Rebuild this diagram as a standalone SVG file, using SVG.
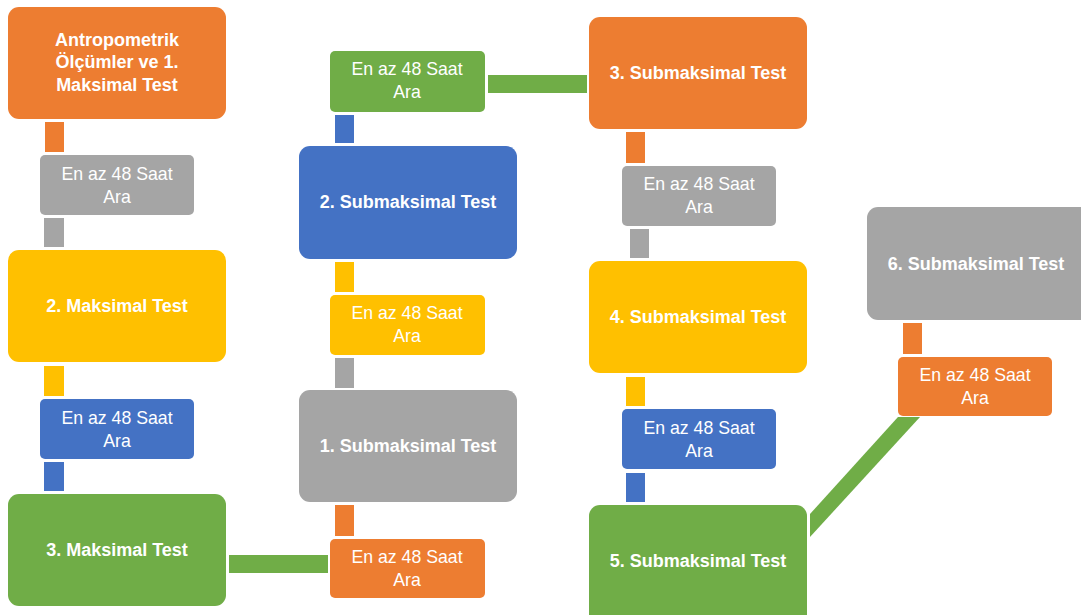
<svg xmlns="http://www.w3.org/2000/svg" width="1081" height="615" viewBox="0 0 1081 615">
<style>
.o{fill:#ED7D31}.g{fill:#A5A5A5}.y{fill:#FFC000}.b{fill:#4472C4}.gr{fill:#70AD47}
.big{font-family:"Liberation Sans",Arial,sans-serif;font-weight:bold;font-size:18px;fill:#fff;text-anchor:middle}
.sm{font-family:"Liberation Sans",Arial,sans-serif;font-size:17.7px;fill:#fff;text-anchor:middle}
</style>
<rect width="1081" height="615" fill="#fff"/>
<g id="connectors">
<rect class="o" x="45" y="122" width="19" height="30"/>
<rect class="g" x="44" y="218" width="20" height="29"/>
<rect class="y" x="44" y="366" width="20" height="30"/>
<rect class="b" x="44" y="462" width="20" height="29"/>
<rect class="gr" x="229" y="555" width="99" height="18"/>
<rect class="gr" x="488" y="75" width="99" height="18"/>
<rect class="b" x="335" y="115" width="19" height="28"/>
<rect class="y" x="335" y="262" width="19" height="30"/>
<rect class="g" x="335" y="358" width="19" height="30"/>
<rect class="o" x="335" y="505" width="19" height="31"/>
<rect class="o" x="626" y="132" width="19" height="31"/>
<rect class="g" x="630" y="229" width="19" height="29"/>
<rect class="y" x="626" y="377" width="19" height="29"/>
<rect class="b" x="626" y="473" width="19" height="29"/>
<rect class="o" x="903" y="323" width="19" height="31"/>
<polygon class="gr" points="810,514 898,417 920,417 810,537"/>
</g>
<g id="n1"><rect class="o" x="8" y="7" width="218" height="112" rx="11"/><text class="big" x="117" y="46">Antropometrik</text><text class="big" x="117" y="68">Ölçümler ve 1.</text><text class="big" x="117" y="91">Maksimal Test</text></g>
<g id="s1"><rect class="g" x="40" y="155" width="154" height="60" rx="5"/><text class="sm" x="117" y="180">En az 48 Saat</text><text class="sm" x="117" y="203">Ara</text></g>
<g id="n2"><rect class="y" x="8" y="250" width="218" height="112" rx="11"/><text class="big" x="117" y="312">2. Maksimal Test</text></g>
<g id="s2"><rect class="b" x="40" y="399" width="154" height="60" rx="5"/><text class="sm" x="117" y="424">En az 48 Saat</text><text class="sm" x="117" y="447">Ara</text></g>
<g id="n3"><rect class="gr" x="8" y="494" width="218" height="112" rx="11"/><text class="big" x="117" y="556">3. Maksimal Test</text></g>
<g id="s3"><rect class="o" x="330" y="539" width="155" height="59" rx="5"/><text class="sm" x="407" y="563">En az 48 Saat</text><text class="sm" x="407" y="586">Ara</text></g>
<g id="n4"><rect class="g" x="299" y="390" width="218" height="112" rx="11"/><text class="big" x="408" y="452">1. Submaksimal Test</text></g>
<g id="s4"><rect class="y" x="330" y="295" width="155" height="60" rx="5"/><text class="sm" x="407" y="319">En az 48 Saat</text><text class="sm" x="407" y="342">Ara</text></g>
<g id="n5"><rect class="b" x="299" y="146" width="218" height="113" rx="11"/><text class="big" x="408" y="208">2. Submaksimal Test</text></g>
<g id="s5"><rect class="gr" x="330" y="51" width="155" height="61" rx="5"/><text class="sm" x="407" y="75">En az 48 Saat</text><text class="sm" x="407" y="98">Ara</text></g>
<g id="n6"><rect class="o" x="589" y="17" width="218" height="112" rx="11"/><text class="big" x="698" y="79">3. Submaksimal Test</text></g>
<g id="s6"><rect class="g" x="622" y="166" width="154" height="60" rx="5"/><text class="sm" x="699" y="190">En az 48 Saat</text><text class="sm" x="699" y="213">Ara</text></g>
<g id="n7"><rect class="y" x="589" y="261" width="218" height="112" rx="11"/><text class="big" x="698" y="323">4. Submaksimal Test</text></g>
<g id="s7"><rect class="b" x="622" y="409" width="154" height="60" rx="5"/><text class="sm" x="699" y="434">En az 48 Saat</text><text class="sm" x="699" y="457">Ara</text></g>
<g id="n8"><rect class="gr" x="589" y="505" width="218" height="120" rx="11"/><text class="big" x="698" y="567">5. Submaksimal Test</text></g>
<g id="n9"><rect class="g" x="867" y="207" width="225" height="113" rx="11"/><text class="big" x="976" y="270">6. Submaksimal Test</text></g>
<g id="s9"><rect class="o" x="898" y="357" width="154" height="59" rx="5"/><text class="sm" x="975" y="381">En az 48 Saat</text><text class="sm" x="975" y="404">Ara</text></g>
</svg>
